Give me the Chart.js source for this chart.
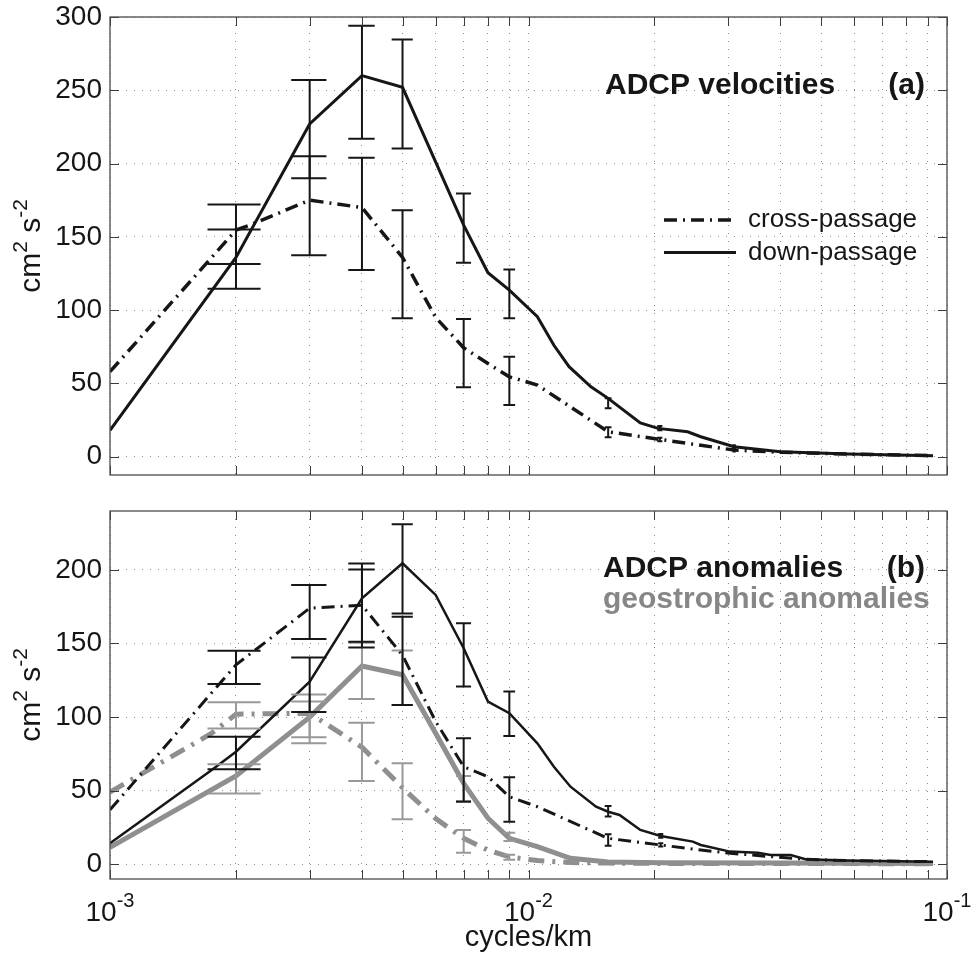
<!DOCTYPE html>
<html><head><meta charset="utf-8">
<script src="https://cdn.jsdelivr.net/npm/chart.js@4.4.1/dist/chart.umd.min.js"></script>
<style>
html,body{margin:0;padding:0;background:#fff;}
#wrap{position:relative;width:977px;height:959px;background:#fff;}
canvas{position:absolute;left:0;}
</style></head><body>
<div id="wrap">
<canvas id="ca" width="977" height="490" style="top:0px"></canvas>
<canvas id="cb" width="977" height="469" style="top:490px"></canvas>
</div>
<script>
// ---------- axes / tick labels ----------
const xGridTicks = [0.001,0.002,0.003,0.004,0.005,0.006,0.007,0.008,0.009,0.01,0.02,0.03,0.04,0.05,0.06,0.07,0.08,0.09,0.1];
const xLabelValues = [0.001, 0.01, 0.1];
const xLabelExponents = ['-3', '-2', '-1'];
const xTitle = 'cycles/km';
const yTicksA = [0,50,100,150,200,250,300];
const yTicksB = [0,50,100,150,200];

// ---------- panel (a): ADCP velocities ----------
const fA_down  = [0.001,0.002,0.003,0.004,0.005,0.007,0.008,0.009,0.0105,0.0115,0.0125,0.0141,0.0155,0.0163,0.0185,0.0204,0.024,0.0258,0.031,0.040,0.058,0.0926];
const vA_down  = [18,136,227,260,252,158,125.5,113.6,95.5,76,61.4,47.7,39.8,35,23,19.3,17,13.6,6.8,3.4,1.8,0.7];
const fA_cross = [0.001,0.002,0.00216,0.003,0.004,0.005,0.006,0.007,0.008,0.009,0.0105,0.0155,0.0206,0.031,0.040,0.058,0.0926];
const vA_cross = [58,154.6,158,175,170,136,95,74.3,63.6,54.5,48.9,17,11.8,4.5,3,1.8,0.7];
const ebA_f        = [0.002,0.003,0.004,0.005,0.007,0.009,0.0155,0.0206,0.031];
const ebA_down_lo  = [114.5,190,217,210.3,132.3,94.4,33,18,5.8];
const ebA_down_hi  = [155,257,294,284.6,179.6,127.8,39.8,21,7.8];
const ebA_cross_lo = [131.4,137.5,127.3,94.4,47.3,35.2,13.2,10.5,3.5];
const ebA_cross_hi = [172,205,204,168.2,93.9,68.2,20,13,5.5];

// ---------- panel (b): anomalies ----------
const fB_down  = [0.001,0.00175,0.002,0.003,0.004,0.005,0.006,0.007,0.008,0.009,0.0105,0.0115,0.0126,0.0145,0.0155,0.0165,0.0185,0.0207,0.0247,0.0258,0.0303,0.0353,0.0379,0.0423,0.0459,0.0577,0.0926];
const vB_down  = [14.3,64,76.5,124,180.7,204.5,183,146.8,110.5,102.6,82.2,66.3,52.7,39.1,35.7,33.5,23.3,19.2,15.4,13.1,8.6,7.9,6.3,6.3,3.4,2.5,1.8];
const fB_cross = [0.001,0.002,0.003,0.004,0.005,0.006,0.007,0.008,0.009,0.0105,0.0155,0.0207,0.0258,0.0303,0.0379,0.0459,0.0577,0.0926];
const vB_cross = [37,135.5,174,176,142,97,66.3,59.5,45.9,39.1,17.6,13.1,9.7,7.5,5.2,3.4,2.5,1.8];
const fB_geoDown  = [0.001,0.002,0.003,0.004,0.005,0.006,0.007,0.008,0.009,0.0105,0.0126,0.0155,0.0207,0.04,0.0926];
const vB_geoDown  = [11.5,60,100,134.7,128.8,89,55,31.3,17.6,12,4.1,1.5,1,0.8,0.6];
const fB_geoCross = [0.001,0.00175,0.002,0.003,0.004,0.005,0.006,0.007,0.008,0.009,0.0105,0.0126,0.0155,0.0207,0.04,0.0926];
const vB_geoCross = [49,89,102,102.6,79.5,52,31,17.6,9.7,5,2.5,1.2,0.8,0.6,0.5,0.4];
const ebB_f        = [0.002,0.003,0.004,0.005,0.007,0.009,0.0155,0.0207];
const ebB_down_lo  = [64.6,103.5,151.2,170.4,120.7,87.2,32.4,18];
const ebB_down_hi  = [86.7,140.4,204.3,231,163.7,117.3,39.6,20.5];
const ebB_cross_lo = [122.5,153.1,147.2,108.2,42.5,28.9,12.6,12];
const ebB_cross_hi = [145,189.8,200.2,168.1,85.6,59.1,20.4,14.3];
const ebBg_f          = [0.002,0.003,0.004,0.005,0.007,0.009];
const ebB_geoDown_lo  = [48,86.3,112.2,108.2,43,15.8];
const ebB_geoDown_hi  = [68,115.4,150.5,145.2,60,21.5];
const ebB_geoCross_lo = [92.3,82.2,56.5,30.6,7.9,3];
const ebB_geoCross_hi = [110,110.5,96.1,68.6,23.3,6.5];

// ---------- styles ----------
const FONT = '"Liberation Sans", Arial, Helvetica, sans-serif';
const BLACK = '#161616';
const GRAY = '#8f8f8f';
const GRAYTXT = '#878787';
const GRID = '#8a8a8a';
const CAP = 0.00029;          // error bar cap half width (data units)
const DASHDOT = [13,6,2,6];
const DASHDOT_G = [16,8,3,8];

const pts = (f, v) => f.map((x, i) => ({x, y: v[i]}));

function decoPlugin(cfg) {
  return {
    id: 'deco_' + cfg.key,
    afterDatasetsDraw(chart) {
      const ctx = chart.ctx, xs = chart.scales.x, ys = chart.scales.y;
      ctx.save();
      ctx.setLineDash([]);
      ctx.lineCap = 'butt';
      cfg.errorBars.forEach(eb => {
        ctx.strokeStyle = eb.color; ctx.lineWidth = eb.width;
        eb.f.forEach((f, i) => {
          const x = xs.getPixelForValue(f);
          const x0 = xs.getPixelForValue(f - CAP), x1 = xs.getPixelForValue(f + CAP);
          const yl = ys.getPixelForValue(eb.lo[i]), yh = ys.getPixelForValue(eb.hi[i]);
          ctx.beginPath();
          ctx.moveTo(x, yl); ctx.lineTo(x, yh);
          ctx.moveTo(x0, yl); ctx.lineTo(x1, yl);
          ctx.moveTo(x0, yh); ctx.lineTo(x1, yh);
          ctx.stroke();
        });
      });
      ctx.restore();
    },
    afterDraw(chart) {
      const ctx = chart.ctx, xs = chart.scales.x, ys = chart.scales.y, a = chart.chartArea;
      ctx.save();
      // inner tick marks
      ctx.strokeStyle = '#3c3c3c'; ctx.lineWidth = 1; ctx.setLineDash([]);
      const TL = 9;
      ctx.beginPath();
      xs.ticks.forEach(t => {
        const x = Math.round(xs.getPixelForValue(t.value)) + 0.5;
        ctx.moveTo(x, a.bottom); ctx.lineTo(x, a.bottom - TL);
        ctx.moveTo(x, a.top); ctx.lineTo(x, a.top + TL);
      });
      ys.ticks.forEach(t => {
        const y = Math.round(ys.getPixelForValue(t.value)) + 0.5;
        ctx.moveTo(a.left, y); ctx.lineTo(a.left + TL, y);
        ctx.moveTo(a.right, y); ctx.lineTo(a.right - TL, y);
      });
      ctx.stroke();
      // box
      ctx.strokeStyle = '#4a4a4a'; ctx.lineWidth = 1.3;
      ctx.strokeRect(a.left, a.top, a.right - a.left, a.bottom - a.top);

      // y axis title: cm^2 s^-2 (rotated)
      const yc = (a.top + a.bottom) / 2;
      ctx.translate(40, yc);
      ctx.rotate(-Math.PI / 2);
      ctx.fillStyle = BLACK;
      ctx.textBaseline = 'alphabetic';
      const big = '30px ' + FONT, small = '21px ' + FONT;
      const parts = [['cm', big, 0], ['2', small, -13], [' s', big, 0], ['-2', small, -13]];
      let total = 0;
      parts.forEach(p => { ctx.font = p[1]; total += ctx.measureText(p[0]).width; });
      let px = -total / 2;
      ctx.textAlign = 'left';
      parts.forEach(p => { ctx.font = p[1]; ctx.fillText(p[0], px, p[2]); px += ctx.measureText(p[0]).width; });
      ctx.setTransform(1, 0, 0, 1, 0, 0);

      // titles
      cfg.texts.forEach(t => {
        ctx.font = (t.bold ? 'bold ' : '') + t.size + 'px ' + FONT;
        ctx.fillStyle = t.color; ctx.textAlign = t.align; ctx.textBaseline = 'alphabetic';
        ctx.fillText(t.text, t.x, t.y);
      });

      // legend
      if (cfg.legend) {
        cfg.legend.forEach(l => {
          ctx.strokeStyle = l.color; ctx.lineWidth = l.width; ctx.setLineDash(l.dash);
          ctx.beginPath(); ctx.moveTo(l.x0, l.y); ctx.lineTo(l.x1, l.y); ctx.stroke();
          ctx.setLineDash([]);
          ctx.font = '26px ' + FONT; ctx.fillStyle = BLACK; ctx.textAlign = 'left'; ctx.textBaseline = 'alphabetic';
          ctx.fillText(l.text, l.x1 + 12, l.y + 7);
        });
      }

      // x tick labels 10^n and axis title
      if (cfg.xLabels) {
        ctx.fillStyle = BLACK; ctx.textBaseline = 'alphabetic'; ctx.textAlign = 'left';
        const base = a.bottom + 42;
        xLabelValues.forEach((v, i) => {
          const x = xs.getPixelForValue(v);
          ctx.font = '28px ' + FONT; const w1 = ctx.measureText('10').width;
          ctx.font = '20px ' + FONT; const w2 = ctx.measureText(xLabelExponents[i]).width;
          const x0 = x - (w1 + w2) / 2;
          ctx.font = '28px ' + FONT; ctx.fillText('10', x0, base);
          ctx.font = '20px ' + FONT; ctx.fillText(xLabelExponents[i], x0 + w1, base - 14);
        });
        ctx.font = '29px ' + FONT; ctx.textAlign = 'center';
        ctx.fillText(xTitle, (a.left + a.right) / 2, a.bottom + 67);
      }
      ctx.restore();
    }
  };
}

function makeChart(id, datasets, cfg) {
  return new Chart(document.getElementById(id), {
    type: 'line',
    data: {datasets},
    options: {
      responsive: false, animation: false, devicePixelRatio: 1,
      layout: {padding: cfg.padding},
      plugins: {legend: {display: false}, tooltip: {enabled: false}},
      elements: {point: {radius: 0, hoverRadius: 0}, line: {tension: 0, borderCapStyle: 'butt', borderJoinStyle: 'miter', fill: false}},
      scales: {
        x: {
          type: 'logarithmic', min: 0.001, max: 0.1,
          afterBuildTicks: s => { s.ticks = xGridTicks.map(v => ({value: v})); },
          afterFit: s => { s.height = 0; s.paddingLeft = 0; s.paddingRight = 0; s.paddingTop = 0; s.paddingBottom = 0; },
          ticks: {display: false},
          grid: {color: GRID, lineWidth: 1, drawTicks: false},
          border: {display: false, dash: [1, 7]}
        },
        y: {
          type: 'linear', min: cfg.ymin, max: cfg.ymax,
          afterBuildTicks: s => { s.ticks = cfg.yticks.map(v => ({value: v})); },
          afterFit: s => { s.width = 110; s.paddingLeft = 0; s.paddingRight = 0; s.paddingTop = 0; s.paddingBottom = 0; },
          ticks: {font: {family: FONT, size: 28}, color: BLACK, padding: 8, autoSkip: false},
          grid: {color: GRID, lineWidth: 1, drawTicks: false},
          border: {display: false, dash: [1, 7]}
        }
      }
    },
    plugins: [decoPlugin(cfg)]
  });
}

// panel (a)
makeChart('ca', [
  {label: 'down-passage', data: pts(fA_down, vA_down), borderColor: BLACK, borderWidth: 3},
  {label: 'cross-passage', data: pts(fA_cross, vA_cross), borderColor: BLACK, borderWidth: 3.5, borderDash: DASHDOT}
], {
  key: 'a', padding: {left: 0, top: 17, right: 30, bottom: 15}, ymin: -12.5, ymax: 300, yticks: yTicksA,
  errorBars: [
    {f: ebA_f, lo: ebA_down_lo, hi: ebA_down_hi, color: BLACK, width: 2},
    {f: ebA_f, lo: ebA_cross_lo, hi: ebA_cross_hi, color: BLACK, width: 2}
  ],
  texts: [
    {text: 'ADCP velocities', x: 605, y: 94, align: 'left', bold: true, size: 30, color: BLACK},
    {text: '(a)', x: 925, y: 94, align: 'right', bold: true, size: 30, color: BLACK}
  ],
  legend: [
    {text: 'cross-passage', x0: 664, x1: 736, y: 220, color: BLACK, width: 3.5, dash: DASHDOT},
    {text: 'down-passage', x0: 664, x1: 736, y: 252.5, color: BLACK, width: 3, dash: []}
  ]
});

// panel (b)
makeChart('cb', [
  {label: 'ADCP down-passage', data: pts(fB_down, vB_down), borderColor: BLACK, borderWidth: 2.5},
  {label: 'ADCP cross-passage', data: pts(fB_cross, vB_cross), borderColor: BLACK, borderWidth: 3, borderDash: DASHDOT},
  {label: 'geostrophic down-passage', data: pts(fB_geoDown, vB_geoDown), borderColor: GRAY, borderWidth: 5},
  {label: 'geostrophic cross-passage', data: pts(fB_geoCross, vB_geoCross), borderColor: GRAY, borderWidth: 5, borderDash: DASHDOT_G}
], {
  key: 'b', padding: {left: 0, top: 21, right: 30, bottom: 80}, ymin: -10, ymax: 240, yticks: yTicksB,
  errorBars: [
    {f: ebBg_f, lo: ebB_geoDown_lo, hi: ebB_geoDown_hi, color: '#999999', width: 2},
    {f: ebBg_f, lo: ebB_geoCross_lo, hi: ebB_geoCross_hi, color: '#999999', width: 2},
    {f: ebB_f, lo: ebB_down_lo, hi: ebB_down_hi, color: BLACK, width: 2},
    {f: ebB_f, lo: ebB_cross_lo, hi: ebB_cross_hi, color: BLACK, width: 2}
  ],
  texts: [
    {text: 'ADCP anomalies', x: 603, y: 87, align: 'left', bold: true, size: 30, color: BLACK},
    {text: '(b)', x: 925, y: 87, align: 'right', bold: true, size: 30, color: BLACK},
    {text: 'geostrophic anomalies', x: 603, y: 118, align: 'left', bold: true, size: 30, color: GRAYTXT}
  ],
  xLabels: true
});
</script>
</body></html>
